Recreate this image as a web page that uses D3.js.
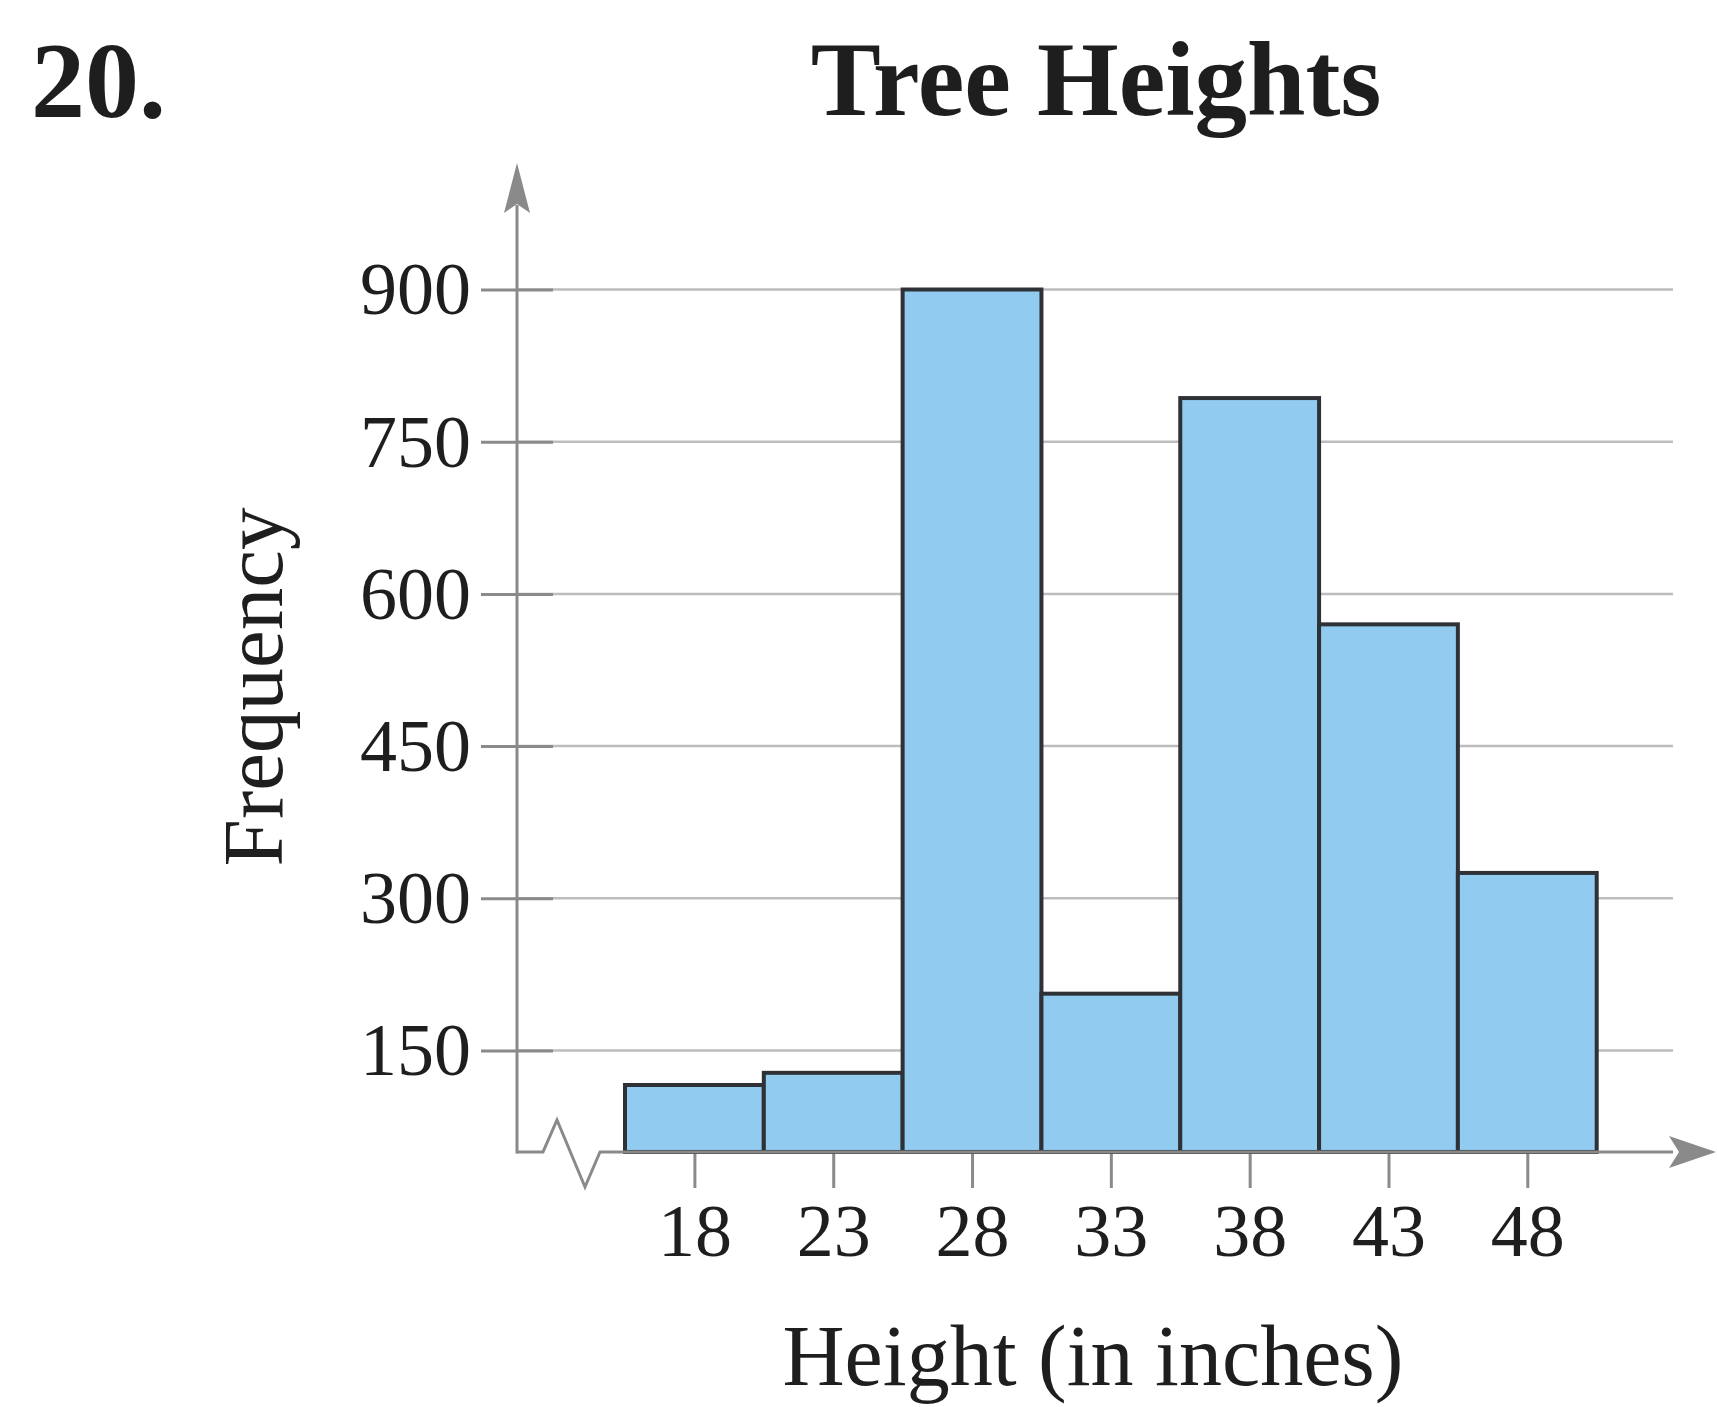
<!DOCTYPE html>
<html>
<head>
<meta charset="utf-8">
<script src="https://cdn.jsdelivr.net/npm/d3@7"></script>
<style>
  html, body { margin: 0; padding: 0; background: #fff; }
  svg { display: block; }
  text { font-family: "Liberation Serif", "Times New Roman", serif; fill: #1e1e1e; }
</style>
</head>
<body>
<svg id="chart" width="1717" height="1407"></svg>
<script>
// ---- data ----
const problemNumber = "20.";
const chartTitle = "Tree Heights";
const xLabel = "Height (in inches)";
const yLabel = "Frequency";
const midpoints = [18, 23, 28, 33, 38, 43, 48];
const frequencies = [116, 128, 900, 206, 793, 570, 325];
const classWidth = 5;
const yTicks = [150, 300, 450, 600, 750, 900];
const yBreakValue = 50; // value at the broken baseline

// ---- layout ----
const svg = d3.select("#chart");
const axisX = 517;
const gridEnd = 1673;

const x = d3.scaleLinear().domain([15.5, 50.5]).range([625, 1596.7]);
const y = d3.scaleLinear().domain([150, 900]).range([1050.5, 289.5]);
const baseY = y(yBreakValue);

const axisColor = "#8a8a8a";

// gridlines
svg.append("g").selectAll("line").data(yTicks).join("line")
  .attr("x1", axisX).attr("x2", gridEnd)
  .attr("y1", d => y(d)).attr("y2", d => y(d))
  .attr("stroke", "#bdbdc0").attr("stroke-width", 2.5);

// y-axis ticks + labels
const yAxis = d3.axisLeft(y).tickValues(yTicks).tickSize(72).tickPadding(10).tickFormat(d3.format("d"));
const gy = svg.append("g").attr("transform", `translate(553,0)`).call(yAxis);
gy.select(".domain").remove();
gy.selectAll(".tick line").attr("stroke", axisColor).attr("stroke-width", 3);
gy.selectAll(".tick text").attr("font-size", 74).attr("dy", "0.33em")
  .style("font-family", '"Liberation Serif", "Times New Roman", serif').attr("fill", "#1e1e1e");

// x-axis ticks + labels
const xAxis = d3.axisBottom(x).tickValues(midpoints).tickSize(36).tickPadding(16).tickFormat(d3.format("d"));
const gx = svg.append("g").attr("transform", `translate(0,${baseY})`).call(xAxis);
gx.select(".domain").remove();
gx.selectAll(".tick line").attr("stroke", axisColor).attr("stroke-width", 3);
gx.selectAll(".tick text").attr("font-size", 74)
  .style("font-family", '"Liberation Serif", "Times New Roman", serif').attr("fill", "#1e1e1e");

// bars
svg.append("g").selectAll("rect").data(midpoints).join("rect")
  .attr("x", d => x(d - classWidth / 2))
  .attr("width", d => x(d + classWidth / 2) - x(d - classWidth / 2))
  .attr("y", (d, i) => y(frequencies[i]))
  .attr("height", (d, i) => baseY - y(frequencies[i]))
  .attr("fill", "#91cbef")
  .attr("stroke", "#2e3236")
  .attr("stroke-width", 4)
  .attr("stroke-linejoin", "miter");

// x axis line with break
const xLine = d3.line();
svg.append("path")
  .attr("d", xLine([[axisX, baseY], [543, baseY], [557, baseY - 32], [585, baseY + 35], [600, baseY], [gridEnd, baseY]]))
  .attr("fill", "none").attr("stroke", axisColor).attr("stroke-width", 3).attr("stroke-linejoin", "miter");

// y axis line
svg.append("line").attr("x1", axisX).attr("x2", axisX).attr("y1", baseY + 1.5).attr("y2", 205)
  .attr("stroke", axisColor).attr("stroke-width", 3);

// arrowheads
svg.append("path")
  .attr("d", `M${axisX},163 L${axisX + 13},213 L${axisX},204 L${axisX - 13},213 Z`)
  .attr("fill", axisColor);
svg.append("path")
  .attr("d", `M1716,${baseY} L1669,${baseY - 16} L1679,${baseY} L1669,${baseY + 16} Z`)
  .attr("fill", axisColor);

// texts
svg.append("text").attr("x", 31).attr("y", 117)
  .attr("font-size", 108).attr("font-weight", "bold").text(problemNumber);
svg.append("text").attr("x", 1096).attr("y", 115).attr("text-anchor", "middle")
  .attr("font-size", 105).attr("font-weight", "bold").text(chartTitle);
svg.append("text").attr("x", 1093).attr("y", 1385).attr("text-anchor", "middle")
  .attr("font-size", 86).text(xLabel);
svg.append("text").attr("transform", "translate(282,687) rotate(-90)").attr("text-anchor", "middle")
  .attr("font-size", 85).text(yLabel);
</script>
</body>
</html>
